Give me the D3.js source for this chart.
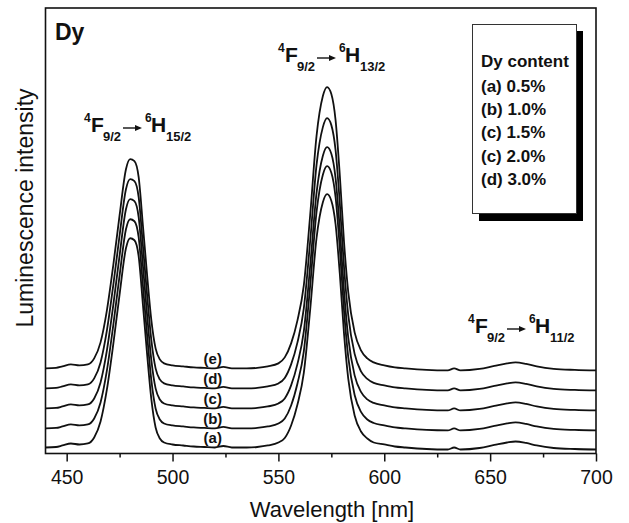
<!DOCTYPE html>
<html>
<head>
	<meta charset="utf-8">

	<!-- Load d3.js -->
	<script src="https://d3js.org/d3.v7.min.js"></script>
	<style>
		body { margin: 0; background: #fff; }
		text { font-family: "Liberation Sans", Arial, sans-serif; fill: #111; }
	</style>
</head>
<body>
	<div id="my_dataviz"></div>
	<script>

	// size of the picture
	const width = 629
	const height = 523

	// wavelength grid (nm), denser around the peaks
	const wavelength = [440, 445, 448, 452, 456, 460, 463, 466, 469, 472, 475, 478,
		480, 482, 484, 486, 488, 490, 492, 494, 496, 500, 505, 510,
		515, 520, 524, 528, 535, 540, 545, 550, 553, 556, 559, 562,
		565, 568, 571, 573, 575, 577, 579, 581, 583, 586, 589, 592,
		595, 600, 605, 610, 620, 630, 633, 636, 645, 652, 658, 662,
		667, 672, 680, 690, 700]

	// luminescence intensity (a.u., curves are stacked)
	const seriesA = [6, 6.5, 8, 10, 9, 10, 16, 32, 64, 109, 159, 205,
		215, 213, 197, 149, 99, 54, 26, 15, 11, 9, 8, 7,
		6.5, 6, 7.5, 6, 6, 6.5, 8, 11, 15.5, 28, 49, 80.5,
		143.5, 215, 251, 259, 252.5, 229, 179.5, 119.5, 74.5, 38, 22, 15,
		11, 9, 7, 6, 4.5, 4, 6, 4, 5.5, 8.5, 11, 12,
		10.5, 8, 5.5, 4.5, 4]
	const seriesB = [25, 25.5, 27, 29, 28, 29, 35, 51, 83, 128, 178, 224,
		234, 232, 216, 168, 118, 73, 45, 34, 30, 28, 27, 26,
		25.5, 25, 26.5, 25, 25, 25.5, 27, 30, 35, 48, 70, 102,
		167.5, 241, 278.5, 287, 280.5, 256, 205, 142.5, 96, 58.5, 41.5, 34,
		30.5, 28, 26, 25, 23.5, 23, 25, 23, 24.5, 27.5, 30, 31,
		29.5, 27, 24.5, 23.5, 23]
	const seriesC = [45, 45.5, 47, 49, 48, 49, 55, 71, 103, 148, 198, 244,
		254, 252, 236, 188, 138, 93, 65, 54, 50, 48, 47, 46,
		45.5, 45, 46.5, 45, 45, 45.5, 47, 50, 55, 68, 89.5, 122,
		187, 260, 297.5, 306, 299.5, 275, 224, 162, 115.5, 78, 61.5, 54,
		50.5, 48, 46, 45, 43.5, 43, 45, 43, 44.5, 47.5, 50, 51,
		49.5, 47, 44.5, 43.5, 43]
	const seriesD = [65, 65.5, 67, 69, 68, 69, 75, 91, 123, 168, 218, 264,
		274, 272, 256, 208, 158, 113, 85, 74, 70, 68, 67, 66,
		65.5, 65, 66.5, 65, 65, 65.5, 67, 70, 75.5, 89, 111, 145,
		212, 288, 326, 335, 328, 303, 250, 186, 138, 99.5, 82, 74.5,
		70.5, 68, 66, 65, 63.5, 63, 65, 63, 64.5, 67.5, 70, 71,
		69.5, 67, 64.5, 63.5, 63]
	const seriesE = [85, 85.5, 87, 89, 88, 89, 95, 111, 143, 188, 238, 284,
		294, 292, 276, 228, 178, 133, 105, 94, 90, 88, 87, 86,
		85.5, 85, 86.5, 85, 85, 85.5, 87, 90, 96, 110, 133, 168,
		238, 317, 357, 366, 359, 333, 278, 211, 161, 121, 103, 95,
		91, 88, 86, 85, 83.5, 83, 85, 83, 84.5, 87.5, 90, 91,
		89.5, 87, 84.5, 83.5, 83]

	const seriesNames = ["(a)", "(b)", "(c)", "(d)", "(e)"]
	const legendTitle = "Dy content"
	const legendItems = ["(a) 0.5%", "(b) 1.0%", "(c) 1.5%", "(c) 2.0%", "(d) 3.0%"]
	const xTicks = [450, 500, 550, 600, 650, 700]
	const xMinorTicks = [475, 525, 575, 625, 675]
	const transitionLower = ["15/2", "13/2", "11/2"]

	// plot area
	const plotLeft = 45.5, plotRight = 596, plotTop = 8, plotBottom = 453.5

	const svg = d3.select("#my_dataviz")
	  .append("svg")
	    .attr("width", width)
	    .attr("height", height)

	const x = d3.scaleLinear().domain([440, 700]).range([plotLeft, plotRight])
	const y = d3.scaleLinear().domain([0, 445]).range([plotBottom, plotTop])

	// x axis, major + minor ticks pointing outwards
	svg.append("g")
	    .attr("transform", `translate(0,${plotBottom})`)
	    .call(d3.axisBottom(x).tickValues(xTicks).tickSize(8).tickSizeOuter(0).tickPadding(8.5))
	    .call(g => g.select(".domain").remove())
	    .call(g => g.selectAll("line").attr("stroke", "#111").attr("stroke-width", 1.5))
	    .call(g => g.selectAll("text").style("font-size", "19.5px").attr("fill", "#111"))

	svg.append("g")
	    .attr("transform", `translate(0,${plotBottom})`)
	    .call(d3.axisBottom(x).tickValues(xMinorTicks).tickSize(4).tickSizeOuter(0).tickFormat(""))
	    .call(g => g.select(".domain").remove())
	    .call(g => g.selectAll("line").attr("stroke", "#111").attr("stroke-width", 1.5))

	// the curves
	const allSeries = [seriesA, seriesB, seriesC, seriesD, seriesE]
	const line = d3.line()
	    .x((d, i) => x(wavelength[i]))
	    .y(d => y(d))
	    .curve(d3.curveMonotoneX)

	svg.append("g")
	  .selectAll("path")
	  .data(allSeries)
	  .join("path")
	    .attr("d", line)
	    .attr("fill", "none")
	    .attr("stroke", "#111")
	    .attr("stroke-width", 1.8)

	// curve labels sitting on the flat part near 520 nm
	const iLabel = wavelength.indexOf(520)
	svg.append("g")
	  .selectAll("text")
	  .data(allSeries)
	  .join("text")
	    .attr("x", x(519))
	    .attr("y", d => y(d[iLabel]) - 4)
	    .attr("text-anchor", "middle")
	    .style("font-size", "15px")
	    .style("font-weight", "bold")
	    .text((d, i) => seriesNames[i])

	// frame
	svg.append("rect")
	    .attr("x", plotLeft)
	    .attr("y", plotTop)
	    .attr("width", plotRight - plotLeft)
	    .attr("height", plotBottom - plotTop)
	    .attr("fill", "none")
	    .attr("stroke", "#111")
	    .attr("stroke-width", 1.6)

	// element label
	svg.append("text")
	    .attr("x", 55)
	    .attr("y", 40)
	    .style("font-size", "23px")
	    .style("font-weight", "bold")
	    .text("Dy")

	// transition labels 4F9/2 -> 6H..
	function transition(x0, y0, lower) {
	  const g = svg.append("g").style("font-weight", "bold")
	  g.append("text").attr("x", x0).attr("y", y0 - 10).style("font-size", "12px").text("4")
	  g.append("text").attr("x", x0 + 7).attr("y", y0).style("font-size", "21px").text("F")
	  g.append("text").attr("x", x0 + 19).attr("y", y0 + 9).style("font-size", "13px").text("9/2")
	  g.append("line")
	      .attr("x1", x0 + 39).attr("x2", x0 + 53)
	      .attr("y1", y0 - 4).attr("y2", y0 - 4)
	      .attr("stroke", "#111").attr("stroke-width", 1.4)
	  g.append("path")
	      .attr("d", `M${x0 + 58},${y0 - 4}L${x0 + 51},${y0 - 7}L${x0 + 51},${y0 - 1}Z`)
	      .attr("fill", "#111")
	  g.append("text").attr("x", x0 + 61).attr("y", y0 - 10).style("font-size", "12px").text("6")
	  g.append("text").attr("x", x0 + 67).attr("y", y0).style("font-size", "21px").text("H")
	  g.append("text").attr("x", x0 + 82).attr("y", y0 + 9).style("font-size", "13px").text(lower)
	}
	transition(84, 132, transitionLower[0])
	transition(278, 62, transitionLower[1])
	transition(468, 333, transitionLower[2])

	// legend box with drop shadow
	const lg = svg.append("g")
	lg.append("rect")
	    .attr("x", 479).attr("y", 31)
	    .attr("width", 104).attr("height", 190)
	    .attr("fill", "#000")
	lg.append("rect")
	    .attr("x", 472.5).attr("y", 24.5)
	    .attr("width", 104).attr("height", 189)
	    .attr("fill", "#fff")
	    .attr("stroke", "#333")
	    .attr("stroke-width", 1)
	lg.append("text")
	    .attr("x", 481).attr("y", 67)
	    .style("font-size", "17px").style("font-weight", "bold")
	    .text(legendTitle)
	lg.selectAll(".item")
	  .data(legendItems)
	  .join("text")
	    .attr("class", "item")
	    .attr("x", 481)
	    .attr("y", (d, i) => 91.5 + i * 23.4)
	    .style("font-size", "17px").style("font-weight", "bold")
	    .text(d => d)

	// axis titles
	svg.append("text")
	    .attr("x", 332)
	    .attr("y", 517)
	    .attr("text-anchor", "middle")
	    .style("font-size", "22px")
	    .text("Wavelength [nm]")

	svg.append("text")
	    .attr("transform", "translate(33,208) rotate(-90)")
	    .attr("text-anchor", "middle")
	    .style("font-size", "23px")
	    .text("Luminescence intensity")

	</script>
</body>
</html>
